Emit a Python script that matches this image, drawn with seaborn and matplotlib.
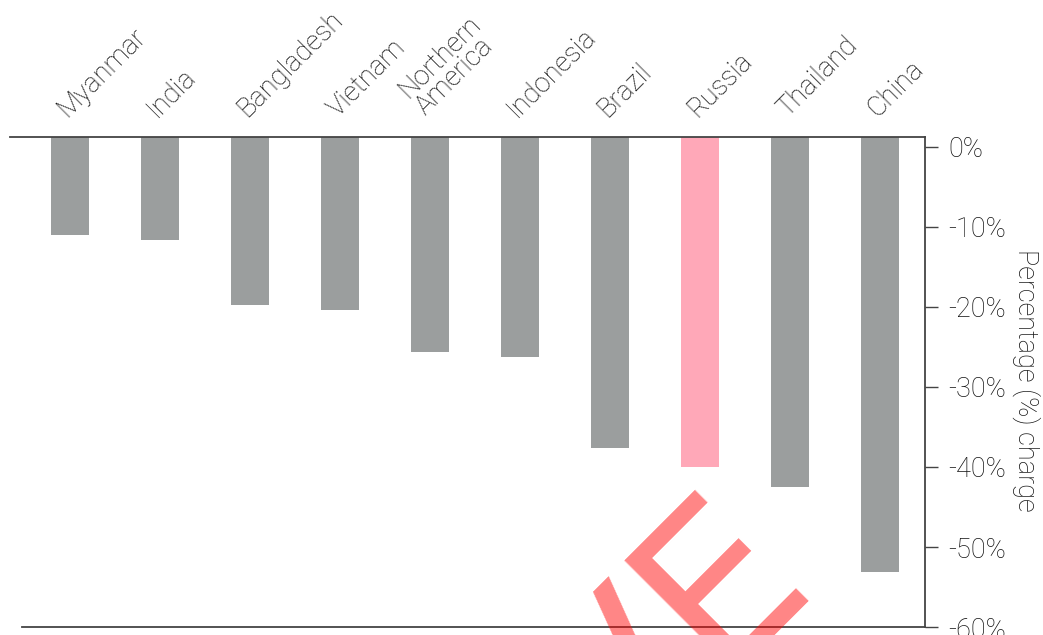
import matplotlib
matplotlib.use("Agg")
import matplotlib.pyplot as plt
import seaborn as sns
import pandas as pd

countries = ["Myanmar", "India", "Bangladesh", "Vietnam", "Northern\nAmerica",
             "Indonesia", "Brazil", "Russia", "Thailand", "China"]
change_pct = [-11.0, -11.6, -19.7, -20.4, -25.6, -26.2, -37.6, -40.0, -42.5, -53.1]
highlight = "Russia"
y_ticks = [0, -10, -20, -30, -40, -50, -60]
y_tick_labels = ["0%", "-10%", "-20%", "-30%", "-40%", "-50%", "-60%"]
y_label = "Percentage (%) charge"

sns.set_theme(style="white")
plt.rcParams["font.family"] = ["Roboto", "DejaVu Sans"]

GRAY = "#9b9e9e"
PINK = "#ffa8b8"
LINE = "#444444"
TXT = "#111111"
FS = 19.5

df = pd.DataFrame({"country": countries, "change": change_pct})
palette = {c: (PINK if c == highlight else GRAY) for c in countries}

fig = plt.figure(figsize=(10.43, 6.35), dpi=100)
ax = fig.add_axes([10 / 1043, 8 / 635, 915 / 1043, 490 / 635])

sns.barplot(data=df, x="country", y="change", hue="country", palette=palette,
            order=countries, width=0.42, legend=False, saturation=1, ax=ax)

y_top = 1.25
ax.set_ylim(-60, y_top)
ax.set_xlim(-0.667, 9.5)
# bars hang from the top frame line
for p in ax.patches:
    h = p.get_height()
    p.set_y(y_top)
    p.set_height(h - y_top)
    p.set_linewidth(0)

ax.spines["left"].set_visible(False)
for s in ["top", "right", "bottom"]:
    ax.spines[s].set_visible(True)
    ax.spines[s].set_color(LINE)
    ax.spines[s].set_linewidth(1.3)
ax.spines["bottom"].set_bounds(-0.535, 9.5)

ax.yaxis.tick_right()
ax.set_yticks(y_ticks)
ax.set_yticklabels(y_tick_labels, fontsize=FS, fontweight="light", color=TXT)
ax.tick_params(axis="y", which="both", right=True, left=False, direction="out",
               length=9.5, width=1.0, color=LINE, pad=7)
ax.set_xticks([])
ax.set_xlabel("")
ax.yaxis.set_label_position("right")
ax.set_ylabel(y_label, rotation=270, fontsize=FS, fontweight="light",
              color=TXT, va="center")
ax.yaxis.set_label_coords(1.111, 0.504)

for i, name in enumerate(countries):
    ax.text(i - 0.03, y_top + 2.4, name, rotation=45, rotation_mode="anchor",
            ha="left", va="baseline", fontsize=FS, fontweight="light",
            color=TXT, linespacing=0.85, clip_on=False)

fig.text(0.592, -0.245, "VE", rotation=45, rotation_mode="anchor", ha="left",
         va="baseline", fontsize=156, color="#ff0000", alpha=0.48,
         family="DejaVu Sans", zorder=10)

fig.savefig("out.png", dpi=100)
